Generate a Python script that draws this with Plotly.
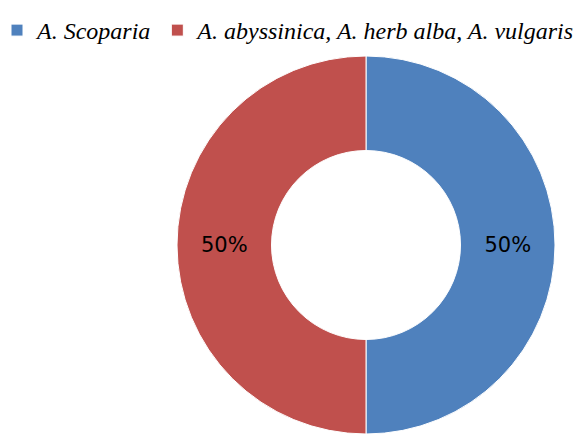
import plotly.graph_objects as go

labels = ["A. Scoparia", "A. abyssinica, A. herb alba, A. vulgaris"]
values = [50, 50]
colors = ["#4F81BD", "#C0504D"]

W, H = 587, 435
OFF = 8  # default page body margin


def px(x):
    return (x - OFF) / W


def py(y):
    return 1 - (y - OFF) / H


fig = go.Figure(go.Pie(
    labels=labels,
    values=values,
    hole=0.5,
    sort=False,
    direction="clockwise",
    rotation=0,
    marker=dict(colors=colors, line=dict(color="white", width=1)),
    textinfo="percent",
    textposition="inside",
    insidetextorientation="horizontal",
    textfont=dict(family="DejaVu Sans", size=21, color="black"),
    domain=dict(x=[px(177), px(555)], y=[py(434), py(56)]),
    hoverinfo="label+percent",
))

fig.update_layout(
    width=W, height=H,
    margin=dict(l=0, r=0, t=0, b=0, autoexpand=False),
    paper_bgcolor="white",
    showlegend=True,
    legend=dict(
        orientation="h",
        x=1 - 14 / W, y=1.0, xanchor="right", yanchor="top",
        bgcolor="rgba(0,0,0,0)",
        font=dict(family="Liberation Serif", size=24, color="black", style="italic"),
        itemwidth=30,
        traceorder="normal",
    ),
)

fig.write_html("out.html")
